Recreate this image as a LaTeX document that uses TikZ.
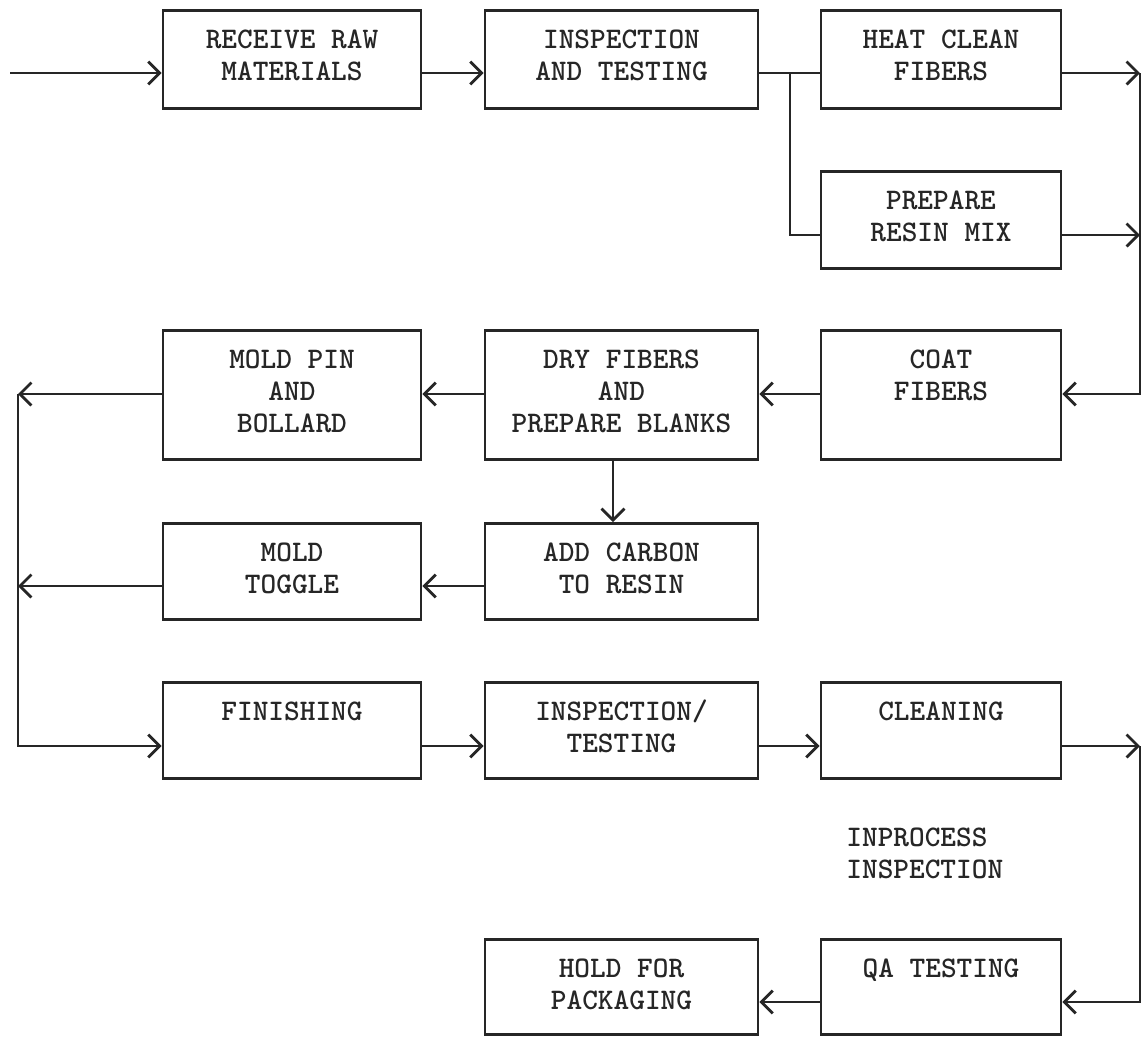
\documentclass[tikz,border=0pt]{standalone}
\usepackage{tikz}
\usetikzlibrary{arrows.meta, positioning}

\begin{document}
\begin{tikzpicture}[x=0.02cm, y=-0.02cm, >={Straight Barb[length=6.5pt, width=13pt]},
      line width=1.6pt, color=black!85,
      stage/.style={draw, anchor=north, inner sep=0pt, align=center,
                    text depth=#1,
                    font=\fontsize{17}{18.2}\selectfont\ttfamily\bfseries},
      stage/.default=0.54cm,
      one/.style={text height=0.76cm},
      two/.style={text height=1.4cm},
      three/.style={text height=2.04cm},
      colA/.style={minimum width=5.16cm},
      colB/.style={minimum width=5.46cm},
      colC/.style={minimum width=4.8cm},
      arr/.style={->},
      note/.style={anchor=north west, inner sep=0pt, align=left,
                   font=\fontsize{17}{18.2}\selectfont\ttfamily\bfseries}]

    \useasboundingbox (0,0) rectangle (1144,1036);

    % arrow rows and the two side buses
    \coordinate (r1) at (0,73);
    \coordinate (r2) at (0,235);
    \coordinate (r3) at (0,394);
    \coordinate (r4) at (0,586);
    \coordinate (r5) at (0,746);
    \coordinate (r6) at (0,1002);
    \coordinate (lbus) at (18,0);
    \coordinate (rbus) at (1140,0);
    \coordinate (in) at (10,73);
    \coordinate (fork) at (790,73);

    % receiving and fiber preparation
    \node[stage=0.56cm, two, colA] (recv) at (292,9) {RECEIVE RAW\\MATERIALS};
    \node[stage=0.56cm, two, colB] (insp) at (621.5,9) {INSPECTION\\AND TESTING};
    \node[stage=0.56cm, two, colC] (heat) at (941,9) {HEAT CLEAN\\FIBERS};
    \node[stage, two, colC] (resin) at (941,170) {PREPARE\\RESIN MIX};

    % coating and molding
    \node[stage=1.18cm, two, colC] (coat) at (941,329) {COAT\\FIBERS};
    \node[stage, three, colB] (dry) at (621.5,329) {DRY FIBERS\\AND\\PREPARE BLANKS};
    \node[stage, three, colA] (pin) at (292,329) {MOLD PIN\\AND\\BOLLARD};
    \node[stage=0.52cm, two, colB] (carbon) at (621.5,522) {ADD CARBON\\TO RESIN};
    \node[stage=0.52cm, two, colA] (toggle) at (292,522) {MOLD\\TOGGLE};

    % finishing and release
    \node[stage=1.16cm, one, colA] (finish) at (292,681) {FINISHING};
    \node[stage=0.52cm, two, colB] (recheck) at (621.5,681) {INSPECTION/\\TESTING};
    \node[stage=1.16cm, one, colC] (clean) at (941,681) {CLEANING};
    \node[stage=1.14cm, one, colC] (qa) at (941,938) {QA TESTING};
    \node[stage=0.5cm, two, colB] (hold) at (621.5,938) {HOLD FOR\\PACKAGING};

    \node[note] (inproc) at (845,827) {INPROCESS\\INSPECTION};

    % top row, split into fibers and resin
    \draw[arr] (in) -- (recv.west |- r1);
    \draw[arr] (recv.east |- r1) -- (insp.west |- r1);
    \draw (insp.east |- r1) -- (heat.west |- r1);
    \draw (fork) |- (resin.west |- r2);
    \draw[arr] (heat.east |- r1) -- (rbus |- r1);
    \draw[arr] (resin.east |- r2) -- (rbus |- r2);
    \draw[arr] (rbus |- r1) -- (rbus |- r3) -- (coat.east |- r3);

    % back to the left bus
    \draw[arr] (coat.west |- r3) -- (dry.east |- r3);
    \draw[arr] (dry.west |- r3) -- (pin.east |- r3);
    \draw[arr] (pin.west |- r3) -- (lbus |- r3);
    \draw[arr] ([xshift=-0.17cm]dry.south) -- ([xshift=-0.17cm]carbon.north);
    \draw[arr] (carbon.west |- r4) -- (toggle.east |- r4);
    \draw[arr] (toggle.west |- r4) -- (lbus |- r4);
    \draw[arr] (lbus |- r3) -- (lbus |- r5) -- (finish.west |- r5);

    % finishing line
    \draw[arr] (finish.east |- r5) -- (recheck.west |- r5);
    \draw[arr] (recheck.east |- r5) -- (clean.west |- r5);
    \draw[arr] (clean.east |- r5) -- (rbus |- r5);
    \draw[arr] (rbus |- r5) -- (rbus |- r6) -- (qa.east |- r6);
    \draw[arr] (qa.west |- r6) -- (hold.east |- r6);

\end{tikzpicture}
\end{document}
